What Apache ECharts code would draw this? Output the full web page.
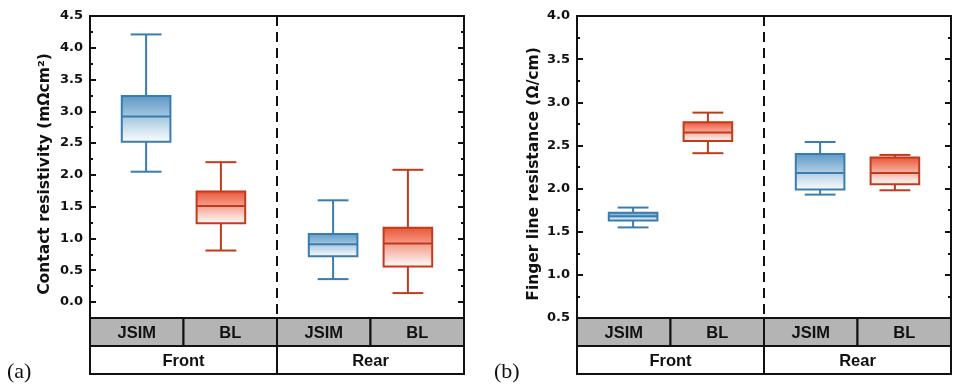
<!DOCTYPE html>
<html>
<head>
<meta charset="utf-8">
<script src="https://cdn.jsdelivr.net/npm/echarts@6/dist/echarts.min.js"></script>
<style>html,body{margin:0;padding:0;background:#fff}#c{width:968px;height:392px}</style>
</head>
<body>
<div id="c"></div>
<script>
// ---- data ----
const groups = ['Front', 'Rear'];
const methods = ['JSIM', 'BL'];
const jsimX = [1.1, 3.1];
const blX = [1.9, 3.9];
// [min, Q1, median, Q3, max]
const contactJSIM = [[2.05, 2.52, 2.92, 3.24, 4.21], [0.36, 0.72, 0.91, 1.07, 1.60]];
const contactBL   = [[0.81, 1.24, 1.51, 1.74, 2.20], [0.14, 0.56, 0.92, 1.17, 2.08]];
const fingerJSIM  = [[1.55, 1.63, 1.68, 1.72, 1.78], [1.93, 1.99, 2.18, 2.40, 2.54]];
const fingerBL    = [[2.41, 2.55, 2.65, 2.77, 2.88], [1.98, 2.05, 2.18, 2.36, 2.39]];
const dividerX = 2.5;
const leftYName = 'Contact resistivity (mΩcm²)';
const rightYName = 'Finger line resistance (Ω/cm)';

// ---- styles ----
const FONT = '"Liberation Sans", Arial, sans-serif';
const AXFONT = '"DejaVu Sans", "Liberation Sans", sans-serif';
const BLUE = {line: '#3b7cae', top: '#5a98c6'};
const RED = {line: '#c23a1c', top: '#eb5232'};
const BOX_W = 0.52, CAP_W = 0.33;

function boxData(xs, stats) { return xs.map((x, i) => [x].concat(stats[i])); }

function boxRender(col) {
  return function (params, api) {
    const x = api.value(0);
    const mn = api.value(1), q1 = api.value(2), md = api.value(3), q3 = api.value(4), mx = api.value(5);
    const bw = api.size([BOX_W, 0])[0], cw = api.size([CAP_W, 0])[0];
    const pMin = api.coord([x, mn]), pQ1 = api.coord([x, q1]), pMd = api.coord([x, md]),
          pQ3 = api.coord([x, q3]), pMax = api.coord([x, mx]);
    const cx = pMin[0];
    const ls = {stroke: col.line, lineWidth: 2};
    return {
      type: 'group',
      children: [
        {type: 'line', shape: {x1: cx, y1: pMax[1], x2: cx, y2: pQ3[1]}, style: ls},
        {type: 'line', shape: {x1: cx, y1: pQ1[1], x2: cx, y2: pMin[1]}, style: ls},
        {type: 'line', shape: {x1: cx - cw / 2, y1: pMax[1], x2: cx + cw / 2, y2: pMax[1]}, style: ls},
        {type: 'line', shape: {x1: cx - cw / 2, y1: pMin[1], x2: cx + cw / 2, y2: pMin[1]}, style: ls},
        {type: 'rect', shape: {x: cx - bw / 2, y: pQ3[1], width: bw, height: pQ1[1] - pQ3[1]},
          style: {fill: new echarts.graphic.LinearGradient(0, 0, 0, 1, [
            {offset: 0, color: col.top}, {offset: 1, color: '#ffffff'}]), stroke: col.line, lineWidth: 2}},
        {type: 'line', shape: {x1: cx - bw / 2, y1: pMd[1], x2: cx + bw / 2, y2: pMd[1]}, style: ls}
      ]
    };
  };
}

function dividerRender(yTop, yBot) {
  return function (params, api) {
    const x = api.value(0);
    const a = api.coord([x, yTop]), b = api.coord([x, yBot]);
    return {type: 'line', shape: {x1: a[0], y1: a[1], x2: b[0], y2: b[1]},
      style: {stroke: '#111', lineWidth: 2, lineDash: [10, 6]}};
  };
}

// table cells: [x0, x1, row]
const tableCells = [];
const tableLabels = [];
groups.forEach((g, gi) => {
  methods.forEach((m, mi) => {
    const x0 = 0.5 + gi * 2 + mi;
    tableCells.push([x0, x0 + 1, 0]);
    tableLabels.push(m);
  });
});
groups.forEach((g, gi) => {
  tableCells.push([0.5 + gi * 2, 2.5 + gi * 2, 1]);
  tableLabels.push(g);
});

function tableRender(params, api) {
  const x0 = api.value(0), x1 = api.value(1), r = api.value(2);
  const p0 = api.coord([x0, r]), p1 = api.coord([x1, r + 1]);
  return {
    type: 'group',
    children: [
      {type: 'rect', shape: {x: p0[0], y: p0[1], width: p1[0] - p0[0], height: p1[1] - p0[1]},
        style: {fill: r === 0 ? '#b4b4b4' : '#ffffff', stroke: '#111', lineWidth: 2}},
      {type: 'text', style: {text: tableLabels[params.dataIndex], x: (p0[0] + p1[0]) / 2, y: (p0[1] + p1[1]) / 2 + 1,
        align: 'center', verticalAlign: 'middle', fontFamily: FONT, fontWeight: 'bold', fontSize: 16.5, fill: '#111'}}
    ]
  };
}

function hiddenX(gi) { return {type: 'value', gridIndex: gi, min: 0.5, max: 4.5, show: false}; }
function valueY(gi, min, max, pos, labels, name, gap, shift) {
  return {
    type: 'value', gridIndex: gi, min: min, max: max, interval: 0.5, position: pos,
    name: name || '', nameLocation: 'middle', nameGap: gap || 0,
    nameTextStyle: {fontFamily: AXFONT, fontWeight: 'bold', fontSize: 15.5, color: '#111',
      padding: [0, shift || 0, 0, 0]},
    axisLine: {show: true, lineStyle: {color: '#111', width: 2}},
    axisTick: {show: true, inside: true, length: 6, lineStyle: {color: '#111', width: 2}},
    minorTick: {show: true, splitNumber: 2, length: 3, lineStyle: {color: '#111', width: 2}},
    axisLabel: {show: labels, margin: 7, fontFamily: AXFONT, fontWeight: 'bold', fontSize: 13, color: '#111',
      formatter: v => v.toFixed(1)},
    splitLine: {show: false}
  };
}

const grids = [
  {left: 90, top: 16, width: 374, height: 286},   // 0 left plot (0..4.5)
  {left: 90, top: 16, width: 374, height: 302, show: true, borderColor: '#111', borderWidth: 2, backgroundColor: 'transparent'}, // 1 left frame
  {left: 90, top: 318, width: 374, height: 56},   // 2 left table
  {left: 577, top: 16, width: 374, height: 302, show: true, borderColor: '#111', borderWidth: 2, backgroundColor: 'transparent'}, // 3 right plot
  {left: 577, top: 318, width: 374, height: 56}   // 4 right table
];

const option = {
  animation: false,
  backgroundColor: '#fff',
  grid: grids,
  xAxis: [hiddenX(0), hiddenX(1), hiddenX(2), hiddenX(3), hiddenX(4)],
  yAxis: [
    valueY(0, 0, 4.5, 'left', true, leftYName, 37, 30),
    valueY(0, 0, 4.5, 'right', false),
    {type: 'value', gridIndex: 1, min: 0, max: 1, show: false},
    {type: 'value', gridIndex: 2, min: 0, max: 2, inverse: true, show: false},
    valueY(3, 0.5, 4.0, 'left', true, rightYName, 35, 14),
    valueY(3, 0.5, 4.0, 'right', false),
    {type: 'value', gridIndex: 4, min: 0, max: 2, inverse: true, show: false}
  ],
  series: [
    {type: 'custom', name: 'divL', xAxisIndex: 1, yAxisIndex: 2, data: [[dividerX]], renderItem: dividerRender(1, 0), z: 1},
    {type: 'custom', name: 'JSIM', xAxisIndex: 0, yAxisIndex: 0, data: boxData(jsimX, contactJSIM), renderItem: boxRender(BLUE), z: 3},
    {type: 'custom', name: 'BL', xAxisIndex: 0, yAxisIndex: 0, data: boxData(blX, contactBL), renderItem: boxRender(RED), z: 3},
    {type: 'custom', name: 'tableL', xAxisIndex: 2, yAxisIndex: 3, data: tableCells, renderItem: tableRender, z: 4},
    {type: 'custom', name: 'divR', xAxisIndex: 3, yAxisIndex: 4, data: [[dividerX]], renderItem: dividerRender(4.0, 0.5), z: 1},
    {type: 'custom', name: 'JSIM', xAxisIndex: 3, yAxisIndex: 4, data: boxData(jsimX, fingerJSIM), renderItem: boxRender(BLUE), z: 3},
    {type: 'custom', name: 'BL', xAxisIndex: 3, yAxisIndex: 4, data: boxData(blX, fingerBL), renderItem: boxRender(RED), z: 3},
    {type: 'custom', name: 'tableR', xAxisIndex: 4, yAxisIndex: 6, data: tableCells, renderItem: tableRender, z: 4}
  ],
  graphic: [
    {type: 'text', left: 7, top: 361, style: {text: '(a)', fontFamily: '"Liberation Serif", "Times New Roman", serif', fontSize: 22, fill: '#111'}},
    {type: 'text', left: 494, top: 361, style: {text: '(b)', fontFamily: '"Liberation Serif", "Times New Roman", serif', fontSize: 22, fill: '#111'}}
  ]
};

const chart = echarts.init(document.getElementById('c'), null, {renderer: 'canvas'});
chart.setOption(option);
</script>
</body>
</html>
